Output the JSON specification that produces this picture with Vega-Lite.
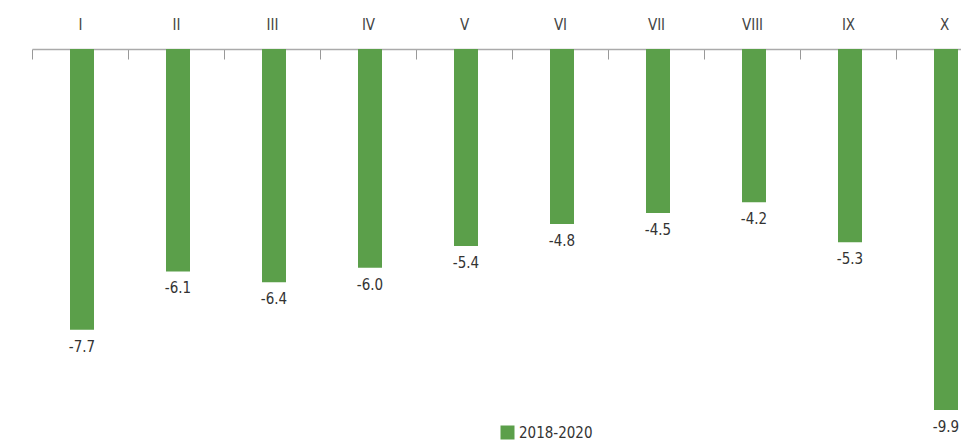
{
  "$schema": "https://vega.github.io/schema/vega-lite/v6.json",
  "width": 929,
  "height": 361,
  "autosize": "none",
  "padding": {"left": 32, "top": 49, "right": 0, "bottom": 30},
  "config": {
    "view": {"stroke": null},
    "font": "Liberation Sans Narrow, DejaVu Sans Condensed, Liberation Sans, sans-serif",
    "locale": {
      "number": {"decimal": ".", "thousands": ",", "grouping": [3], "currency": ["$", ""], "minus": "-"}
    }
  },
  "data": {
    "values": [
      {"cat": "I", "value": -7.7, "series": "2018-2020"},
      {"cat": "II", "value": -6.1, "series": "2018-2020"},
      {"cat": "III", "value": -6.4, "series": "2018-2020"},
      {"cat": "IV", "value": -6.0, "series": "2018-2020"},
      {"cat": "V", "value": -5.4, "series": "2018-2020"},
      {"cat": "VI", "value": -4.8, "series": "2018-2020"},
      {"cat": "VII", "value": -4.5, "series": "2018-2020"},
      {"cat": "VIII", "value": -4.2, "series": "2018-2020"},
      {"cat": "IX", "value": -5.3, "series": "2018-2020"},
      {"cat": "X", "value": -9.9, "series": "2018-2020"}
    ]
  },
  "encoding": {
    "x": {
      "field": "cat",
      "type": "nominal",
      "sort": null,
      "scale": {"range": [0, 960], "paddingInner": 0, "paddingOuter": 0},
      "axis": {
        "orient": "top",
        "title": null,
        "labelAngle": 0,
        "labelFontSize": 15,
        "labelColor": "#444444",
        "labelPadding": 27,
        "tickBand": "extent",
        "tickSize": -10,
        "tickColor": "#999999",
        "domainColor": "#aaaaaa",
        "domainWidth": 1.5
      }
    },
    "y": {
      "field": "value",
      "type": "quantitative",
      "scale": {"domain": [-9.9, 0], "nice": false, "zero": true},
      "axis": null
    }
  },
  "layer": [
    {
      "mark": {"type": "bar", "size": 24, "xOffset": 2},
      "encoding": {
        "color": {
          "field": "series",
          "type": "nominal",
          "scale": {"range": ["#5b9f4a"]},
          "legend": {
            "title": null,
            "orient": "none",
            "legendX": 468,
            "legendY": 376,
            "padding": 0,
            "symbolType": "square",
            "symbolSize": 196,
            "symbolStrokeWidth": 0,
            "labelFontSize": 15,
            "labelColor": "#333333"
          }
        }
      }
    },
    {
      "mark": {"type": "text", "dy": 17, "xOffset": 2, "baseline": "middle", "fontSize": 15, "color": "#333333"},
      "encoding": {
        "text": {"field": "value", "type": "quantitative", "format": ".1f"}
      }
    }
  ]
}
